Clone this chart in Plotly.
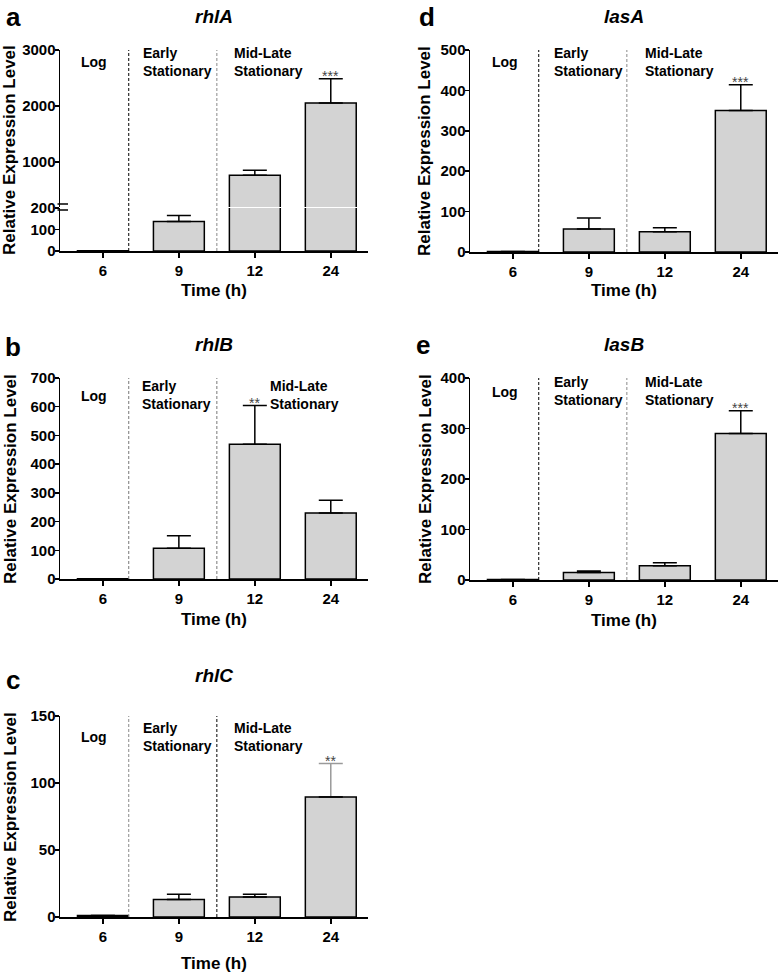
import plotly.graph_objects as go

# ---------------- data ----------------
times = ["6", "9", "12", "24"]

rhlA = [1, 137, 766, 2054]
rhlA_err = [0, 28, 90, 432]
rhlA_sig = ["", "", "", "***"]

rhlB = [1, 107, 469, 230]
rhlB_err = [0, 44, 135, 44]
rhlB_sig = ["", "", "**", ""]

rhlC = [1.2, 13, 15, 89.5]
rhlC_err = [0, 4, 2, 25]
rhlC_sig = ["", "", "", "**"]

lasA = [1, 57, 50, 350]
lasA_err = [0, 27, 10, 64]
lasA_sig = ["", "", "", "***"]

lasB = [1, 15, 28, 290]
lasB_err = [0, 3, 6, 45]
lasB_sig = ["", "", "", "***"]

phase_labels = ["Log", "Early<br>Stationary", "Mid-Late<br>Stationary"]

# ---------------- layout helpers ----------------
W, H = 779, 976
FONT = "Liberation Sans, Arial, sans-serif"


def px(x):
    return x / W


def py(y):
    return 1 - y / H


BAR_FILL = "#d3d3d3"
XR = [-0.565, 3.49]

fig = go.Figure()

LEFT = [px(60), px(368)]
RIGHT = [px(470), px(778)]

panels = {
    "a_lo": dict(xd=LEFT, yd=(208, 251), yr=[0, 200], tv=[0, 100, 200]),
    "a_hi": dict(xd=LEFT, yd=(50, 207), yr=[200, 3000], tv=[1000, 2000, 3000]),
    "b": dict(xd=LEFT, yd=(378, 579), yr=[0, 700], tv=list(range(0, 701, 100))),
    "c": dict(xd=LEFT, yd=(716, 917), yr=[0, 150], tv=[0, 50, 100, 150]),
    "d": dict(xd=RIGHT, yd=(50, 252), yr=[0, 500], tv=list(range(0, 501, 100))),
    "e": dict(xd=RIGHT, yd=(378, 580), yr=[0, 400], tv=list(range(0, 401, 100))),
}
order = ["a_lo", "a_hi", "b", "c", "d", "e"]
axis_ids = {k: i + 1 for i, k in enumerate(order)}


def xref_of(i):
    return "x" if i == 1 else f"x{i}"


def yref_of(i):
    return "y" if i == 1 else f"y{i}"


tickfont = dict(family=FONT, size=15, color="black", weight="bold")

for k in order:
    i = axis_ids[k]
    p = panels[k]
    xname = "xaxis" if i == 1 else f"xaxis{i}"
    yname = "yaxis" if i == 1 else f"yaxis{i}"
    show_x = k != "a_hi"
    fig.layout[xname] = dict(
        domain=p["xd"], anchor=yref_of(i), type="category", automargin=False,
        range=XR, showgrid=False, zeroline=False, fixedrange=True,
        showline=show_x, linecolor="black", linewidth=1.5,
        ticks="outside" if show_x else "", ticklen=5, tickwidth=1.5, tickcolor="black",
        showticklabels=show_x, tickfont=tickfont,
    )
    fig.layout[yname] = dict(
        domain=[py(p["yd"][1]), py(p["yd"][0])], anchor=xref_of(i), automargin=False,
        range=p["yr"], tickvals=p["tv"], showgrid=False, zeroline=False, fixedrange=True,
        showline=True, linecolor="black", linewidth=1.5,
        ticks="outside", ticklen=4, tickwidth=1.5, tickcolor="black",
        tickfont=tickfont, ticklabelstandoff=-4,
    )


def add_bars(axkey, vals, errs, err_color="black", mask=None, fill=BAR_FILL, outline="black"):
    i = axis_ids[axkey]
    e = list(errs)
    if mask is not None:
        e = [ev if m else 0 for ev, m in zip(e, mask)]
    plus = [ev if ev > 0 else None for ev in e]
    minus = [0 if ev > 0 else None for ev in e]
    fig.add_trace(go.Bar(
        x=times, y=vals, width=0.67,
        marker=dict(color=fill, line=dict(color=outline, width=1.5)),
        error_y=dict(type="data", symmetric=False, array=plus, arrayminus=minus,
                     color=err_color, thickness=1.5, width=12),
        xaxis=xref_of(i), yaxis=yref_of(i), showlegend=False, hoverinfo="skip",
    ))


# panel a: broken axis
lo_top = panels["a_lo"]["yr"][1]
add_bars("a_lo", rhlA, rhlA_err, mask=[v + e <= lo_top for v, e in zip(rhlA, rhlA_err)])
add_bars("a_hi", rhlA, rhlA_err, mask=[v > lo_top for v in rhlA])
add_bars("b", rhlB, rhlB_err)
# rhlC: the 24 h error bar is drawn in grey
add_bars("c", rhlC, rhlC_err, err_color="#9a9a9a", mask=[False, False, False, True],
         fill="rgba(0,0,0,0)", outline="rgba(0,0,0,0)")
add_bars("c", rhlC, rhlC_err, mask=[True, True, True, False])
add_bars("d", lasA, lasA_err)
add_bars("e", lasB, lasB_err)

# ---------------- annotations ----------------
ann = []
shapes = []


def text(x, y, s, size=14, xanchor="center", yanchor="middle", italic=False, angle=0, color="black"):
    ann.append(dict(
        x=px(x), y=py(y), xref="paper", yref="paper", text=s, showarrow=False,
        xanchor=xanchor, yanchor=yanchor, textangle=angle, align="left",
        font=dict(family=FONT, size=size, color=color, weight="bold",
                  style="italic" if italic else "normal"),
    ))


# panel letters & gene titles
for letter, lx, ly in [("a", 13, 17), ("b", 13, 347), ("c", 13, 680), ("d", 427, 17), ("e", 423, 345)]:
    text(lx, ly, letter, size=26)
for gene, gx, gy in [("rhlA", 214, 16), ("rhlB", 214, 345), ("rhlC", 214, 675), ("lasA", 624, 16), ("lasB", 624, 345)]:
    text(gx, gy, gene, size=19, italic=True)

# axis titles
for yc, xc in [(150, 10), (479, 10), (817, 10), (151, 425), (479, 425)]:
    text(xc, yc, "Relative Expression Level", size=17, angle=-90)
for xc, yc in [(214, 290), (214, 619), (214, 963), (624, 290), (624, 620)]:
    text(xc, yc, "Time (h)", size=17)

# phase labels: (log_x, log_y, early_x, block_center_y, mid_x)
phase_pos = [
    (94, 62, 141, 62, 232),    # a
    (94, 396, 140, 395, 268),  # b
    (94, 737, 141, 737, 232),  # c
    (505, 62, 552, 62, 643),   # d
    (505, 392, 552, 391, 643),  # e
]
for lx, ly, ex, yc, mx in phase_pos:
    text(lx, ly, phase_labels[0], size=14)
    text(ex, yc, phase_labels[1], size=14, xanchor="left")
    text(mx, yc, phase_labels[2], size=14, xanchor="left")

# significance stars (category index coordinates)
for axkey, vals, errs, sig in [("a_hi", rhlA, rhlA_err, rhlA_sig), ("b", rhlB, rhlB_err, rhlB_sig),
                                ("c", rhlC, rhlC_err, rhlC_sig), ("d", lasA, lasA_err, lasA_sig),
                                ("e", lasB, lasB_err, lasB_sig)]:
    i = axis_ids[axkey]
    for j, (v, e, s) in enumerate(zip(vals, errs, sig)):
        if s:
            ann.append(dict(x=j, y=v + e, xref=xref_of(i), yref=yref_of(i),
                            text=s, showarrow=False, yanchor="bottom", yshift=-7,
                            font=dict(family=FONT, size=14, color="#444444")))

# dashed phase separators (x in category index units)
sep_x = [0.34, 1.5]
sep_colors = {
    "a": ["black", "#8a8a8a"], "b": ["#777777", "#777777"], "c": ["#8a8a8a", "black"],
    "d": ["black", "#8a8a8a"], "e": ["black", "#8a8a8a"],
}
sep_axes = {"a": ("x", py(251), py(50)), "b": ("x3", py(579), py(378)), "c": ("x4", py(917), py(716)),
            "d": ("x5", py(252), py(50)), "e": ("x6", py(580), py(378))}
for key, (xr, y0, y1) in sep_axes.items():
    for sx, col in zip(sep_x, sep_colors[key]):
        shapes.append(dict(type="line", xref=xr, yref="paper", x0=sx, x1=sx, y0=y0, y1=y1,
                           line=dict(color=col, width=1, dash="3px,2px")))

# axis-break marks on panel a
for yb in [204, 210]:
    shapes.append(dict(type="line", xref="paper", yref="paper", x0=px(57.5), x1=px(68),
                       y0=py(yb), y1=py(yb), line=dict(color="black", width=1.5)))

fig.update_layout(
    width=W, height=H, autosize=False,
    margin=dict(l=0, r=0, t=0, b=0),
    paper_bgcolor="white", plot_bgcolor="white",
    barmode="overlay", bargap=0, annotations=ann, shapes=shapes,
    font=dict(family=FONT, color="black"), hovermode=False,
)

fig.write_html("out.html", config={"displayModeBar": False, "staticPlot": True},
               post_script="document.body.style.margin='0';document.body.style.overflow='hidden';")
